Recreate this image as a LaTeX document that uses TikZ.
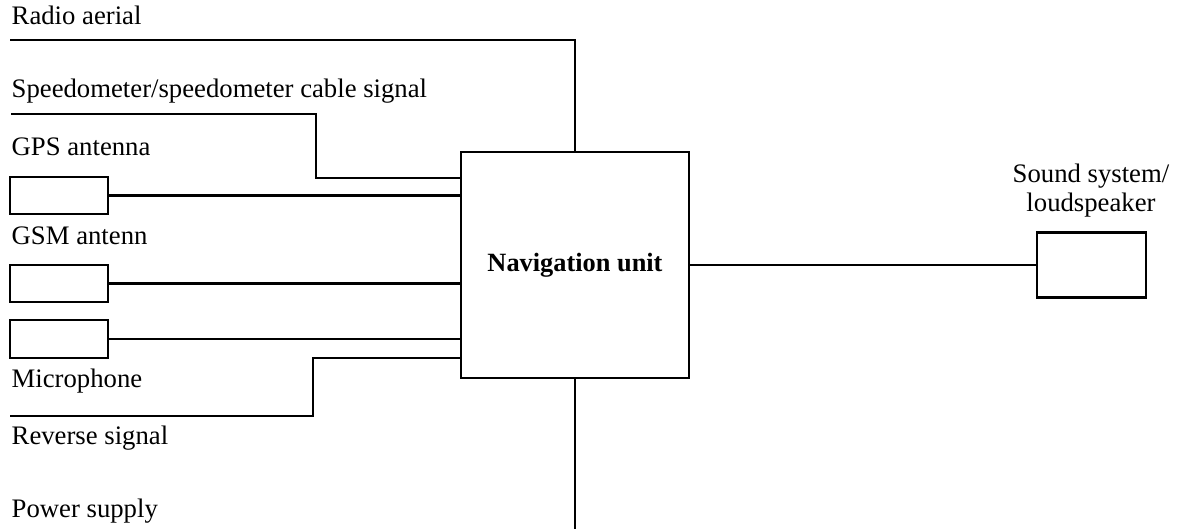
\documentclass[tikz,border=0pt]{standalone}
\usepackage{fontspec}
\setmainfont{Liberation Serif}
\usetikzlibrary{positioning}
\tikzset{
	unit/.style={draw,line width=0.6pt,minimum width=0.98cm,minimum height=0.37cm,inner sep=0pt},
	lbl/.style={inner sep=0pt,font=\fontsize{7.6}{9}\selectfont},
	wire/.style={line width=0.6pt},
}
\begin{document}
\begin{tikzpicture}[y=-1cm]
	\useasboundingbox (0,0) rectangle (11.77,5.29);
	% boxes
	\node[unit] (gps) at (0.59,1.955) {};
	\node[unit] (gsm) at (0.59,2.835) {};
	\node[unit,minimum height=0.38cm] (mic) at (0.59,3.39) {};
	\node[unit,minimum width=2.28cm,minimum height=2.26cm,font=\fontsize{7.5}{9}\selectfont\bfseries] (nav) at (5.75,2.65) {Navigation unit};
	\node[unit,minimum width=1.09cm,minimum height=0.65cm] (spk) at (10.915,2.65) {};
	% labels
	\node[lbl,anchor=base west] (radiolbl) at (0.11,0.25) {Radio aerial};
	\node[lbl,anchor=base west] (speedolbl) at (0.11,0.98) {Speedometer/speedometer cable signal};
	\node[lbl,anchor=base west] (gpslbl) at (0.11,1.56) {GPS antenna};
	\node[lbl,anchor=base west] (gsmlbl) at (0.11,2.45) {GSM antenn};
	\node[lbl,anchor=base west] (miclbl) at (0.11,3.88) {Microphone};
	\node[lbl,anchor=base west] (revlbl) at (0.11,4.45) {Reverse signal};
	\node[lbl,anchor=base west] (powerlbl) at (0.11,5.18) {Power supply};
	\node[lbl,anchor=base] (spklbl) at (10.91,1.83) {Sound system/};
	\node[lbl,anchor=base] (spklbl2) at (10.91,2.12) {loudspeaker};
	% free ends and bends
	\path (0.10,0.40) coordinate (radio)
	(0.11,1.14) coordinate (speedo)
	(3.16,1.78) coordinate (S)
	(0.10,4.16) coordinate (rev)
	(3.13,3.58) coordinate (R)
	(5.75,5.29) coordinate (power);
	\draw[wire] (radio) -| (nav.north);
	\draw[wire] (speedo) -| (S) -- (S -| nav.west);
	\draw[wire] (gps.east) -- (gps.east -| nav.west);
	\draw[wire] (gsm.east) -- (gsm.east -| nav.west);
	\draw[line width=0.35pt] (mic.east) -- (mic.east -| nav.west);
	\draw[wire] (rev) -| (R) -- (R -| nav.west);
	\draw[wire] (nav.south) -- (power);
	\draw[wire] (nav.east) -- (spk.west);
\end{tikzpicture}
\end{document}
